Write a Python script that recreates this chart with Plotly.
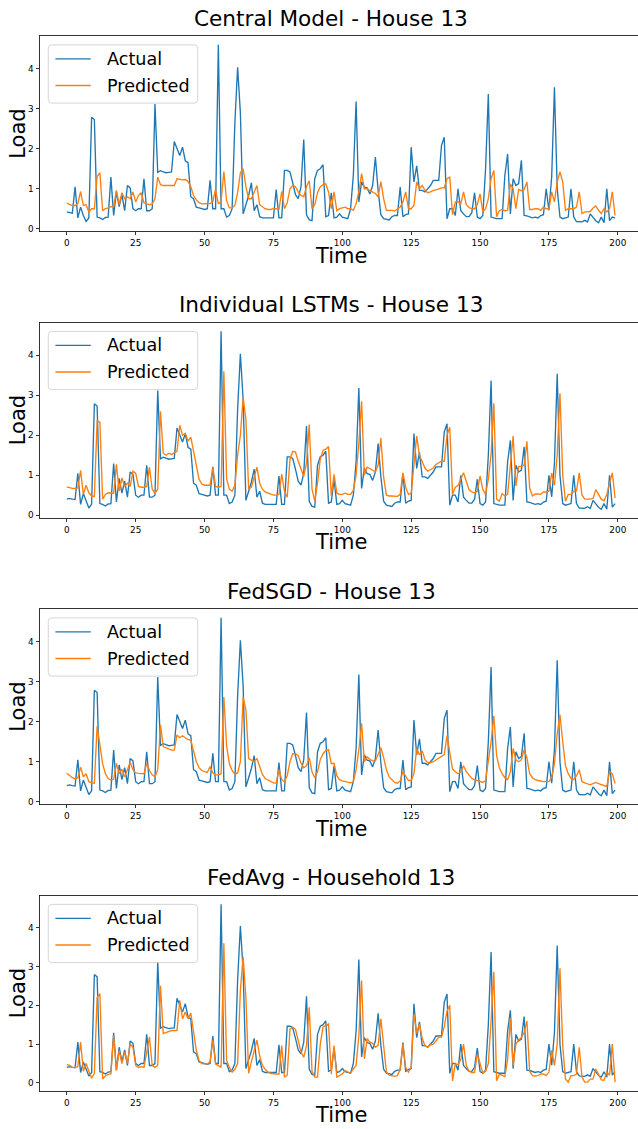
import plotly.graph_objects as go

# ---------------- data ----------------
time_steps = list(range(200))

actual_central = [
    0.42, 0.40, 0.39, 1.05, 0.27, 0.54, 0.33, 0.18, 0.27, 2.79,
    2.73, 0.29, 0.27, 0.23, 0.28, 0.29, 1.29, 0.33, 0.92, 0.55,
    0.85, 0.45, 1.08, 1.02, 0.50, 0.45, 0.50, 0.50, 1.25, 0.45,
    0.45, 0.50, 3.12, 1.41, 1.45, 1.42, 1.40, 1.41, 1.42, 2.18,
    2.00, 1.83, 2.04, 1.70, 1.65, 0.80, 0.75, 0.54, 0.52, 0.50,
    0.48, 0.50, 1.21, 0.50, 0.50, 4.60, 0.50, 0.50, 0.29, 0.33,
    0.50, 2.65, 4.04, 2.90, 0.37, 0.60, 0.83, 1.15, 0.45, 0.60,
    0.30, 0.27, 0.27, 0.27, 0.27, 0.27, 0.98, 0.27, 0.27, 1.46,
    1.46, 1.42, 1.15, 0.85, 0.75, 1.05, 2.23, 0.35, 0.22, 0.20,
    1.25, 1.46, 1.50, 1.60, 0.30, 0.33, 0.90, 0.27, 0.29, 0.37,
    0.29, 0.27, 0.25, 0.50, 1.33, 3.18, 0.67, 1.17, 1.04, 1.02,
    0.87, 1.08, 1.79, 0.96, 0.35, 0.25, 0.23, 0.22, 0.30, 0.33,
    0.33, 1.04, 0.30, 0.35, 0.37, 2.04, 1.17, 1.57, 0.96, 0.96,
    0.92, 1.00, 1.08, 1.21, 1.21, 1.21, 2.08, 2.29, 0.25, 0.50,
    0.50, 0.33, 1.00, 0.45, 0.37, 0.30, 0.30, 0.40, 0.90, 0.29,
    0.25, 0.33, 1.50, 3.37, 0.29, 0.27, 0.25, 0.25, 0.25, 1.33,
    1.87, 0.37, 1.25, 1.08, 1.13, 1.71, 0.33, 0.32, 0.29, 0.27,
    0.29, 0.27, 0.33, 0.35, 1.00, 0.46, 1.30, 3.54, 1.00, 0.29,
    0.25, 0.27, 0.29, 1.00, 0.29, 0.18, 0.17, 0.17, 0.21, 0.17,
    0.37, 0.27, 0.20, 0.15, 0.29, 0.15, 1.00, 0.20, 0.29, 0.27,
]

actual_house = [
    0.40, 0.42, 0.40, 0.39, 1.05, 0.27, 0.54, 0.33, 0.18, 0.27,
    2.79, 2.73, 0.29, 0.27, 0.23, 0.28, 0.29, 1.29, 0.33, 0.92,
    0.55, 0.85, 0.45, 1.08, 1.02, 0.50, 0.45, 0.50, 0.50, 1.25,
    0.45, 0.45, 0.50, 3.12, 1.41, 1.45, 1.42, 1.40, 1.41, 1.42,
    2.18, 2.00, 1.83, 2.04, 1.70, 1.65, 0.80, 0.75, 0.54, 0.52,
    0.50, 0.48, 0.50, 1.21, 0.50, 0.50, 4.60, 0.50, 0.50, 0.29,
    0.33, 0.50, 2.65, 4.04, 2.90, 0.37, 0.60, 0.83, 1.15, 0.45,
    0.60, 0.30, 0.27, 0.27, 0.27, 0.27, 0.27, 0.98, 0.27, 0.27,
    1.46, 1.46, 1.42, 1.15, 0.85, 0.75, 1.05, 2.23, 0.35, 0.22,
    0.20, 1.25, 1.46, 1.50, 1.60, 0.30, 0.33, 0.90, 0.27, 0.29,
    0.37, 0.29, 0.27, 0.25, 0.50, 1.33, 3.18, 0.67, 1.17, 1.04,
    1.02, 0.87, 1.08, 1.79, 0.96, 0.35, 0.25, 0.23, 0.22, 0.30,
    0.33, 0.33, 1.04, 0.30, 0.35, 0.37, 2.04, 1.17, 1.57, 0.96,
    0.96, 0.92, 1.00, 1.08, 1.21, 1.21, 1.21, 2.08, 2.29, 0.25,
    0.50, 0.50, 0.33, 1.00, 0.45, 0.37, 0.30, 0.30, 0.40, 0.90,
    0.29, 0.25, 0.33, 1.50, 3.37, 0.29, 0.27, 0.25, 0.25, 0.25,
    1.33, 1.87, 0.37, 1.25, 1.08, 1.13, 1.71, 0.33, 0.32, 0.29,
    0.27, 0.29, 0.27, 0.33, 0.35, 1.00, 0.46, 1.30, 3.54, 1.00,
    0.29, 0.25, 0.27, 0.29, 1.00, 0.29, 0.18, 0.17, 0.17, 0.21,
    0.17, 0.37, 0.27, 0.20, 0.15, 0.29, 0.15, 1.00, 0.20, 0.29,
]

pred_central = [
    0.64, 0.60, 0.58, 0.58, 0.63, 0.93, 0.58, 0.60, 0.42, 0.50,
    0.50, 1.30, 1.40, 0.45, 0.50, 0.52, 0.55, 0.55, 0.96, 0.60,
    0.90, 0.75, 0.80, 0.75, 0.92, 0.67, 0.83, 0.90, 0.65, 0.62,
    0.60, 0.62, 0.75, 1.29, 1.10, 1.08, 1.08, 1.08, 1.08, 1.08,
    1.25, 1.23, 1.22, 1.23, 1.18, 1.05, 0.83, 0.72, 0.65, 0.62,
    0.62, 0.62, 0.63, 0.68, 0.98, 0.62, 0.68, 1.43, 0.70, 0.52,
    0.52, 0.58, 0.90, 1.40, 1.50, 1.05, 0.75, 0.75, 0.90, 1.08,
    0.60, 0.55, 0.50, 0.48, 0.48, 0.50, 0.50, 0.48, 0.93, 0.50,
    0.65, 1.00, 1.08, 1.05, 0.92, 0.83, 0.80, 1.05, 1.20, 0.50,
    0.60, 0.90, 1.05, 1.10, 1.12, 0.92, 0.50, 0.92, 0.45, 0.50,
    0.52, 0.54, 0.50, 0.50, 0.46, 0.62, 0.92, 1.38, 1.00, 1.00,
    0.95, 0.92, 0.88, 0.80, 1.18, 0.75, 0.46, 0.46, 0.46, 0.44,
    0.50, 0.54, 0.67, 0.92, 0.50, 0.50, 0.58, 1.17, 1.00, 1.08,
    0.96, 0.90, 0.92, 0.96, 0.97, 1.00, 1.02, 1.02, 1.25, 1.29,
    0.35, 0.67, 0.67, 0.62, 0.92, 0.60, 0.53, 0.50, 0.50, 0.60,
    0.87, 0.42, 0.50, 0.75, 1.25, 1.46, 0.30, 0.45, 0.48, 0.45,
    0.46, 1.12, 1.00, 0.50, 0.98, 0.95, 0.98, 1.17, 0.48, 0.48,
    0.50, 0.50, 0.46, 0.54, 0.50, 0.50, 0.92, 0.67, 1.17, 1.42,
    1.17, 0.46, 0.50, 0.50, 0.50, 0.54, 0.92, 0.38, 0.42, 0.42,
    0.43, 0.52, 0.57, 0.46, 0.38, 0.50, 0.42, 0.50, 0.92, 0.33,
]

pred_individual = [
    0.71, 0.68, 0.67, 0.67, 0.68, 1.12, 0.52, 0.75, 0.56, 0.48,
    0.47, 2.35, 2.33, 0.40, 0.52, 0.56, 0.56, 0.55, 1.27, 0.60,
    0.93, 0.72, 0.80, 0.72, 1.10, 1.05, 0.72, 0.70, 0.70, 0.72,
    1.20, 0.65, 0.55, 0.65, 2.60, 1.55, 1.50, 1.55, 1.52, 1.55,
    1.60, 2.25, 2.00, 2.05, 1.85, 1.95, 1.60, 1.30, 0.90, 0.78,
    0.75, 0.75, 0.75, 1.18, 0.72, 0.70, 0.72, 3.60, 0.90, 0.65,
    0.60, 0.75, 1.50, 2.00, 2.95, 2.40, 0.65, 0.70, 0.95, 1.20,
    0.80, 0.65, 0.58, 0.55, 0.52, 0.50, 0.50, 0.52, 1.03, 0.60,
    0.45, 1.40, 1.60, 1.58, 1.35, 1.15, 0.97, 1.30, 2.27, 0.65,
    0.35, 0.80, 1.40, 1.62, 1.65, 1.72, 0.48, 1.02, 0.55, 0.52,
    0.52, 0.55, 0.52, 0.52, 0.62, 1.00, 1.80, 2.85, 1.00, 1.20,
    1.17, 1.13, 1.08, 1.25, 1.93, 0.95, 0.50, 0.48, 0.48, 0.48,
    0.47, 0.52, 1.06, 0.70, 0.52, 0.55, 1.27, 1.98, 1.50, 1.35,
    1.18, 1.10, 1.15, 1.18, 1.27, 1.30, 1.35, 1.35, 2.00, 2.20,
    0.52, 0.70, 0.74, 0.90, 1.06, 0.85, 0.64, 0.58, 0.56, 0.60,
    0.98, 0.64, 0.52, 0.90, 1.52, 2.80, 0.40, 0.35, 0.54, 0.48,
    0.52, 1.25, 1.98, 0.73, 1.22, 1.22, 1.25, 1.85, 0.68, 0.48,
    0.53, 0.53, 0.52, 0.58, 0.58, 0.60, 1.05, 0.75, 1.50, 3.05,
    1.00, 0.35, 0.52, 0.52, 0.60, 0.60, 1.06, 0.50, 0.40, 0.40,
    0.40, 0.42, 0.64, 0.52, 0.40, 0.36, 0.52, 0.80, 1.06, 0.43,
]

pred_fedsgd = [
    0.71, 0.65, 0.60, 0.57, 0.60, 0.86, 0.62, 0.70, 0.50, 0.47,
    0.46, 1.89, 1.40, 0.95, 0.70, 0.58, 0.54, 0.56, 0.96, 0.70,
    0.81, 0.62, 0.80, 0.98, 0.80, 0.72, 0.71, 0.70, 0.70, 0.96,
    0.78, 0.67, 0.62, 0.80, 1.92, 1.38, 1.35, 1.30, 1.29, 1.29,
    1.67, 1.60, 1.65, 1.60, 1.55, 1.54, 1.30, 1.00, 0.85, 0.78,
    0.75, 0.73, 0.88, 0.72, 0.67, 0.67, 0.70, 2.62, 1.40, 0.95,
    0.78, 0.69, 0.72, 1.00, 2.62, 2.30, 1.08, 1.04, 1.00, 1.08,
    0.85, 0.68, 0.58, 0.54, 0.50, 0.47, 0.46, 0.80, 0.55, 0.50,
    0.65, 1.00, 1.20, 1.20, 1.15, 0.96, 0.85, 0.90, 1.10, 0.75,
    0.60, 0.75, 1.05, 1.20, 1.28, 1.30, 0.95, 0.96, 0.65, 0.55,
    0.52, 0.50, 0.48, 0.47, 0.50, 0.80, 1.30, 1.96, 1.00, 1.12,
    1.06, 1.02, 1.02, 1.20, 1.35, 1.10, 0.80, 0.62, 0.54, 0.48,
    0.46, 0.52, 0.75, 0.65, 0.53, 0.53, 0.70, 1.33, 1.17, 1.27,
    1.05, 0.98, 0.97, 1.00, 1.05, 1.10, 1.13, 1.18, 1.65, 1.20,
    0.82, 0.75, 0.70, 0.75, 0.90, 0.75, 0.65, 0.58, 0.55, 0.52,
    0.50, 0.48, 0.53, 1.00, 1.50, 2.15, 1.15, 0.85, 0.70, 0.60,
    0.55, 0.75, 1.33, 1.05, 1.00, 1.05, 1.30, 1.10, 0.70, 0.60,
    0.55, 0.53, 0.51, 0.50, 0.50, 0.50, 0.60, 0.95, 1.70, 2.17,
    1.50, 0.90, 0.70, 0.58, 0.55, 0.65, 0.80, 0.50, 0.47, 0.45,
    0.42, 0.45, 0.48, 0.45, 0.42, 0.40, 0.38, 0.75, 0.70, 0.45,
]

pred_fedavg = [
    0.47, 0.45, 0.40, 0.40, 0.42, 1.05, 0.30, 0.50, 0.30, 0.12,
    0.25, 2.20, 2.30, 0.10, 0.18, 0.22, 0.23, 1.22, 0.32, 0.84,
    0.50, 0.80, 0.50, 1.00, 0.92, 0.45, 0.40, 0.42, 0.40, 0.75,
    1.18, 0.45, 0.40, 0.45, 2.50, 1.27, 1.30, 1.33, 1.35, 1.35,
    1.35, 2.13, 1.65, 1.83, 1.65, 1.80, 1.35, 0.84, 0.58, 0.50,
    0.49, 0.49, 0.55, 1.10, 0.49, 0.45, 0.40, 3.60, 0.58, 0.40,
    0.28, 0.35, 0.50, 2.40, 3.25, 2.20, 0.25, 0.55, 0.85, 1.10,
    0.70, 0.45, 0.35, 0.28, 0.25, 0.23, 0.23, 0.23, 0.96, 0.15,
    0.20, 1.38, 1.44, 1.38, 1.10, 0.80, 0.66, 0.96, 1.95, 0.30,
    0.15, 0.15, 1.00, 1.44, 1.48, 1.52, 0.23, 0.96, 0.15, 0.20,
    0.23, 0.32, 0.28, 0.25, 0.36, 0.45, 1.22, 2.64, 0.62, 1.14,
    1.05, 1.02, 0.92, 0.97, 1.65, 0.90, 0.28, 0.20, 0.19, 0.17,
    0.19, 0.35, 1.00, 0.40, 0.28, 0.40, 1.78, 1.27, 1.52, 1.15,
    0.96, 0.92, 0.98, 1.00, 1.08, 1.18, 1.18, 1.45, 1.85, 2.00,
    0.05, 0.49, 0.47, 0.60, 1.00, 0.45, 0.30, 0.27, 0.27, 0.75,
    0.50, 0.25, 0.30, 0.50, 1.60, 2.86, 0.06, 0.22, 0.20, 0.16,
    0.60, 1.68, 0.45, 1.00, 1.10, 1.17, 1.30, 1.60, 0.30, 0.19,
    0.18, 0.19, 0.23, 0.23, 0.19, 0.28, 0.84, 0.45, 1.00, 2.95,
    0.96, 0.10, 0.02, 0.19, 0.19, 0.23, 0.92, 0.15, 0.02, 0.02,
    0.10, 0.10, 0.36, 0.23, 0.08, 0.07, 0.28, 0.20, 1.00, 0.02,
]

panel_titles = [
    "Central Model - House 13",
    "Individual LSTMs - House 13",
    "FedSGD - House 13",
    "FedAvg - Household 13",
]
panel_actual = [actual_central, actual_house, actual_house, actual_house]
panel_pred = [pred_central, pred_individual, pred_fedsgd, pred_fedavg]
legend_labels = ["Actual", "Predicted"]
x_ticks = [0, 25, 50, 75, 100, 125, 150, 175, 200]
y_ticks = [0, 1, 2, 3, 4]

# ---------------- layout geometry (pixels) ----------------
W, H = 638, 1129
BLUE, ORANGE = "#1f77b4", "#ff7f0e"
FONT = "DejaVu Sans"
ax_left_px = 39.4
px_per_unit = 2.755
x_lo = -9.95
x_hi = x_lo + (W - ax_left_px) / px_per_unit
ax_center_px = ax_left_px + (208.95 - x_lo) * px_per_unit / 2
title_center_px = 331
panel_tops = [36, 323, 610, 897]
panel_h = 196


def xp(px):
    return px / W


def yp(py):
    return 1 - py / H


def rounded_box(x0, y0, x1, y1, r):
    """SVG path (paper coords) for a rounded rectangle given in pixels."""
    pts = [
        ("M", x0 + r, y0), ("L", x1 - r, y0), ("Q", x1, y0, x1, y0 + r),
        ("L", x1, y1 - r), ("Q", x1, y1, x1 - r, y1), ("L", x0 + r, y1),
        ("Q", x0, y1, x0, y1 - r), ("L", x0, y0 + r), ("Q", x0, y0, x0 + r, y0),
    ]
    out = []
    for p in pts:
        cmd, vals = p[0], p[1:]
        coords = []
        for a in range(0, len(vals), 2):
            coords.append(f"{xp(vals[a]):.5f},{yp(vals[a + 1]):.5f}")
        out.append(cmd + " " + " ".join(coords))
    return " ".join(out) + " Z"


fig = go.Figure()
layout = dict(
    width=W, height=H, autosize=False,
    margin=dict(l=0, r=0, t=0, b=0, pad=0),
    paper_bgcolor="white", plot_bgcolor="white",
    showlegend=False,
    font=dict(family=FONT, color="black"),
)
annotations = []
shapes = []

for i in range(4):
    k = "" if i == 0 else str(i + 1)
    top = panel_tops[i]
    bot = top + panel_h
    act = panel_actual[i]
    pred = panel_pred[i]
    lo = min(min(act), min(pred))
    hi = max(max(act), max(pred))
    pad = 0.05 * (hi - lo)

    fig.add_trace(go.Scatter(x=time_steps, y=act, mode="lines", name=legend_labels[0],
                             line=dict(color=BLUE, width=1.35),
                             xaxis="x" + k, yaxis="y" + k))
    fig.add_trace(go.Scatter(x=time_steps, y=pred, mode="lines", name=legend_labels[1],
                             line=dict(color=ORANGE, width=1.35),
                             xaxis="x" + k, yaxis="y" + k))

    layout["xaxis" + k] = dict(
        domain=[xp(ax_left_px), 1.0], range=[x_lo, x_hi], anchor="y" + k,
        tickmode="array", tickvals=x_ticks, ticktext=[str(v) for v in x_ticks],
        ticks="outside", ticklen=3.1, tickwidth=0.8, tickcolor="black",
        showline=True, mirror=True, linecolor="black", linewidth=0.8,
        showgrid=False, zeroline=False, fixedrange=True,
        tickfont=dict(size=8.9, family=FONT, color="black"),
    )
    layout["yaxis" + k] = dict(
        domain=[yp(bot), yp(top)], range=[lo - pad, hi + pad], anchor="x" + k,
        tickmode="array", tickvals=y_ticks, ticktext=[str(v) for v in y_ticks],
        ticks="outside", ticklen=3.1, tickwidth=0.8, tickcolor="black",
        showline=True, mirror=False, linecolor="black", linewidth=0.8,
        showgrid=False, zeroline=False, fixedrange=True,
        tickfont=dict(size=8.9, family=FONT, color="black"),
    )

    # title
    annotations.append(dict(text=panel_titles[i], xref="paper", yref="paper",
                            x=xp(title_center_px), y=yp(top - 17.5), xanchor="center", yanchor="middle",
                            showarrow=False, font=dict(size=21.6, family=FONT, color="black")))
    # axis labels
    annotations.append(dict(text="Time", xref="paper", yref="paper",
                            x=xp(ax_center_px), y=yp(bot + 24), xanchor="center", yanchor="middle",
                            showarrow=False, font=dict(size=21, family=FONT, color="black")))
    annotations.append(dict(text="Load", xref="paper", yref="paper",
                            x=xp(18), y=yp(top + panel_h / 2), xanchor="center", yanchor="middle",
                            textangle=-90, showarrow=False,
                            font=dict(size=21, family=FONT, color="black")))

    # legend box (rounded, like matplotlib's fancybox)
    bx0, bx1 = 48.3, 197.7
    by0, by1 = top + 9, top + 67.3
    shapes.append(dict(type="path", xref="paper", yref="paper",
                       path=rounded_box(bx0, by0, bx1, by1, 3.5),
                       line=dict(color="#cccccc", width=0.8),
                       fillcolor="rgba(255,255,255,0.8)", layer="above"))
    for j, (lab, col) in enumerate(zip(legend_labels, [BLUE, ORANGE])):
        ly = top + 23 + j * 26.7
        shapes.append(dict(type="line", xref="paper", yref="paper",
                           x0=xp(55.4), x1=xp(90.8), y0=yp(ly), y1=yp(ly),
                           line=dict(color=col, width=1.35), layer="above"))
        annotations.append(dict(text=lab, xref="paper", yref="paper",
                                x=xp(105), y=yp(ly), xanchor="left", yanchor="middle",
                                showarrow=False,
                                font=dict(size=17.6, family=FONT, color="black")))

layout["annotations"] = annotations
layout["shapes"] = shapes
fig.update_layout(**layout)
fig.write_html("out.html",
               config={"displayModeBar": False, "staticPlot": True},
               post_script="document.body.style.margin='0';document.body.style.overflow='hidden';")
